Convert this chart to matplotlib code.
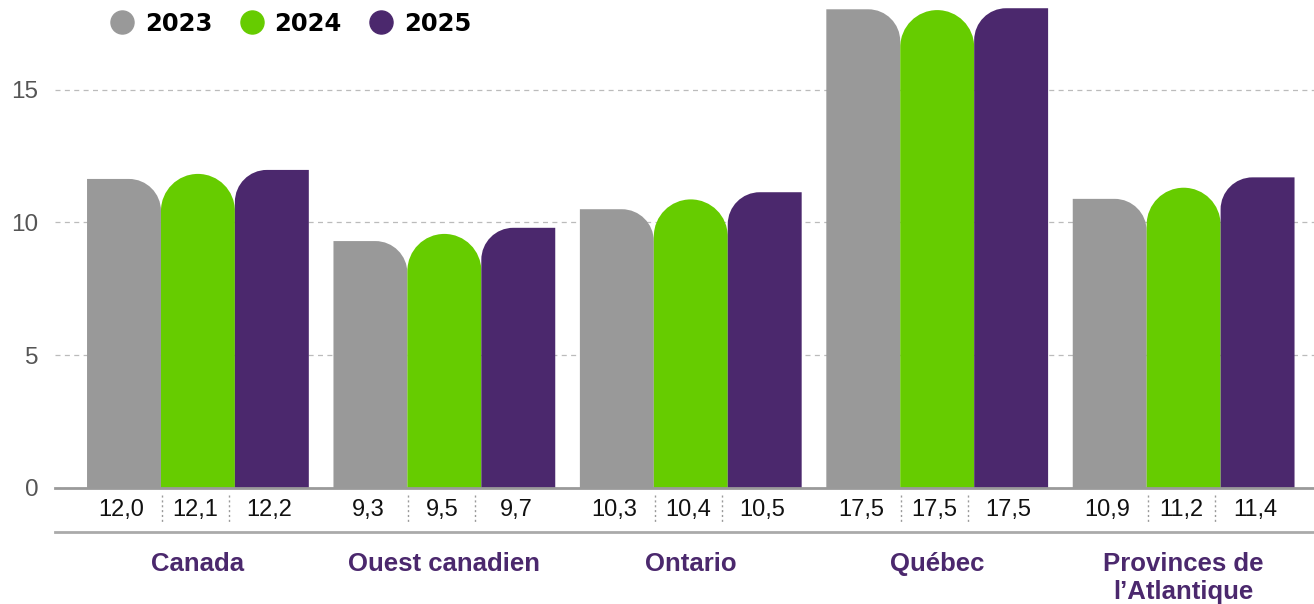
import matplotlib.pyplot as plt
from matplotlib.path import Path
from matplotlib.patches import PathPatch
from matplotlib.lines import Line2D

plt.rcParams['font.family'] = ['Liberation Sans', 'DejaVu Sans']

regions = ["Canada", "Ouest canadien", "Ontario", "Québec", "Provinces de\nl’Atlantique"]
years = ["2023", "2024", "2025"]

# bar heights as drawn in the chart
bars_2023 = [11.64, 9.30, 10.50, 18.03, 10.89]
bars_2024 = [11.83, 9.57, 10.87, 18.00, 11.31]
bars_2025 = [11.98, 9.80, 11.14, 18.07, 11.70]

# values printed in the table row under the bars
values_2023 = [12.0, 9.3, 10.3, 17.5, 10.9]
values_2024 = [12.1, 9.5, 10.4, 17.5, 11.2]
values_2025 = [12.2, 9.7, 10.5, 17.5, 11.4]

colors = ["#999999", "#66cc00", "#4b286d"]
purple = "#4b286d"

K = 0.5523  # bezier constant for quarter circle


def rounded_bar(ax, x0, w, h, rl, rr, color):
    # rl / rr = radius (pixels) of top-left / top-right corner
    p0 = ax.transData.transform((0, 0))
    p1 = ax.transData.transform((1, 1))
    ux, uy = p1 - p0
    rxl, ryl = rl / ux, rl / uy
    rxr, ryr = rr / ux, rr / uy
    x1 = x0 + w
    verts = [(x0, 0), (x1, 0), (x1, h - ryr),
             (x1, h - ryr * (1 - K)), (x1 - rxr * (1 - K), h), (x1 - rxr, h),
             (x0 + rxl, h),
             (x0 + rxl * (1 - K), h), (x0, h - ryl * (1 - K)), (x0, h - ryl),
             (x0, 0)]
    codes = [Path.MOVETO, Path.LINETO, Path.LINETO,
             Path.CURVE4, Path.CURVE4, Path.CURVE4,
             Path.LINETO,
             Path.CURVE4, Path.CURVE4, Path.CURVE4,
             Path.CLOSEPOLY]
    ax.add_patch(PathPatch(Path(verts, codes), facecolor=color,
                           edgecolor='none', zorder=3))


fig = plt.figure(figsize=(13.14, 6.04), dpi=100)
ax = fig.add_axes([55 / 1314, 116 / 604, 1259 / 1314, 488 / 604])
ax.set_xlim(-0.58, 4.529)
ax.set_ylim(0, 18.38)

series = [bars_2023, bars_2024, bars_2025]
tables = [values_2023, values_2024, values_2025]
radii = [(0, 32), (37, 37), (32, 0)]
width = 0.3

for i, (heights, vals) in enumerate(zip(series, tables)):
    for j, h in enumerate(heights):
        xc = j + (i - 1) * width
        rounded_bar(ax, xc - width / 2, width, h, radii[i][0], radii[i][1], colors[i])
        ax.text(xc - 0.01, -0.83, f"{vals[j]:.1f}".replace(".", ","),
                ha='center', va='center', fontsize=17, color='#111111')

# dotted separators in the value row
for j in range(len(regions)):
    for dx in (-0.146, 0.126):
        ax.plot([j + dx, j + dx], [-0.26, -1.27], color='#9a9a9a', lw=1,
                ls=(0, (1.5, 2)), clip_on=False)
    ax.text(j, -2.42, regions[j], ha='center', va='top', fontsize=18.5,
            fontweight='bold', color=purple, linespacing=1.22)

ax.axhline(0, color='#9a9a9a', lw=2, clip_on=False, zorder=4)
ax.axhline(-1.646, color='#aaaaaa', lw=2, clip_on=False)

ax.set_yticks([0, 5, 10, 15])
ax.tick_params(axis='y', length=0, pad=12, labelsize=17.5, labelcolor='#555555')
ax.set_xticks([])
ax.yaxis.grid(True, color='#bbbbbb', lw=0.9, ls=(0, (4, 3.5)))
ax.set_axisbelow(True)
for s in ax.spines.values():
    s.set_visible(False)

handles = [Line2D([], [], marker='o', ls='', markersize=16.6, color=c) for c in colors]
fig.legend(handles, years, loc='center left', bbox_to_anchor=(110 / 1314, 1 - 24 / 604),
           ncol=3, frameon=False, borderpad=0, borderaxespad=0, handlelength=1.0,
           handletextpad=0.45, columnspacing=1.1,
           prop={'family': 'DejaVu Sans', 'weight': 'bold', 'size': 17.5})

fig.savefig("out.png", dpi=100)
